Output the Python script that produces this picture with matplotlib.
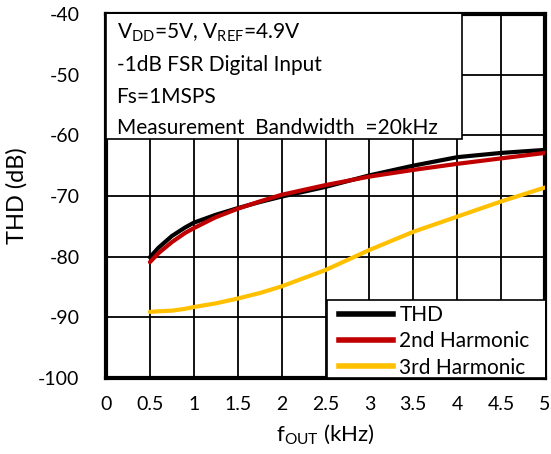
import matplotlib
matplotlib.use("Agg")
import matplotlib.pyplot as plt
from matplotlib.lines import Line2D

plt.rcParams['font.family'] = ['Lato', 'DejaVu Sans']
plt.rcParams['axes.unicode_minus'] = False

# Output frequency (kHz) and distortion levels (dB)
freq_khz = [0.5, 0.6, 0.75, 0.9, 1.0, 1.25, 1.5, 1.75, 2.0, 2.5, 3.0, 3.5, 4.0, 4.5, 5.0]
thd_db = [-80.1, -78.5, -76.6, -75.2, -74.4, -73.1, -72.0, -71.0, -70.1, -68.5, -66.6, -65.0, -63.6, -62.9, -62.4]
h2_db = [-80.9, -79.4, -77.6, -76.1, -75.3, -73.5, -72.1, -70.9, -69.8, -68.2, -66.8, -65.7, -64.7, -63.8, -62.9]
h3_db = [-89.1, -89.0, -88.9, -88.6, -88.3, -87.7, -86.9, -86.0, -84.9, -82.2, -78.9, -75.9, -73.4, -70.9, -68.6]

series_names = ["THD", "2nd Harmonic", "3rd Harmonic"]
series_colors = ["#000000", "#c00000", "#ffc000"]

x_ticks = [0, 0.5, 1, 1.5, 2, 2.5, 3, 3.5, 4, 4.5, 5]
x_tick_labels = ["0", "0.5", "1", "1.5", "2", "2.5", "3", "3.5", "4", "4.5", "5"]
y_ticks = [-100, -90, -80, -70, -60, -50, -40]

conditions = [
    r"V$_{\mathregular{DD}}$=5V, V$_{\mathregular{REF}}$=4.9V",
    "-1dB FSR Digital Input",
    "Fs=1MSPS",
    "Measurement  Bandwidth  =20kHz",
]

FS = 15
W, H = 551, 454
AX_L, AX_R, AX_T, AX_B = 106, 545, 14, 378

fig = plt.figure(figsize=(W/100, H/100), dpi=100)
ax = fig.add_axes([AX_L/W, 1 - AX_B/H, (AX_R - AX_L)/W, (AX_B - AX_T)/H])

for ys, c in zip([thd_db, h2_db, h3_db], series_colors):
    ax.plot(freq_khz, ys, color=c, lw=3.0, solid_capstyle='round', zorder=3)

ax.set_xlim(0, 5)
ax.set_ylim(-100, -40)
ax.set_xticks(x_ticks)
ax.set_xticklabels(x_tick_labels)
ax.set_yticks(y_ticks)
ax.grid(True, color='black', lw=1.3)
ax.set_axisbelow(True)
ax.tick_params(axis='y', length=0, labelsize=14, pad=19)
ax.tick_params(axis='x', length=0, labelsize=14, pad=13)
for s in ax.spines.values():
    s.set_linewidth(3)

ax.set_ylabel("THD (dB)", fontsize=17, labelpad=8)
ax.set_xlabel(r"f$_{\mathregular{OUT}}$ (kHz)", fontsize=16, labelpad=7)

# Test-condition panel in the upper left
ax.add_patch(plt.Rectangle((0, (AX_B - 138.5)/(AX_B - AX_T)), (462 - AX_L)/(AX_R - AX_L), 1,
                           transform=ax.transAxes, facecolor='white', edgecolor='black',
                           lw=1.2, zorder=4))
for i, line in enumerate(conditions):
    ax.text(0.12, -43.1 - i*5.25, line, fontsize=FS, va='center', ha='left', zorder=5)

# Legend panel in the lower right
ax.add_patch(plt.Rectangle(((327 - AX_L)/(AX_R - AX_L), 0), 1, (AX_B - 300)/(AX_B - AX_T),
                           transform=ax.transAxes, facecolor='white', edgecolor='black',
                           lw=1.2, zorder=5))
handles = [Line2D([0], [0], color=c, lw=4) for c in series_colors]
leg = ax.legend(handles, series_names, loc='upper left',
                bbox_to_anchor=((339 - AX_L)/(AX_R - AX_L), (AX_B - 305)/(AX_B - AX_T)),
                fontsize=FS, frameon=False, borderaxespad=0, borderpad=0,
                handlelength=2.6, handletextpad=0.3, labelspacing=0.3)
leg.set_zorder(6)

fig.savefig("out.png", dpi=100)
